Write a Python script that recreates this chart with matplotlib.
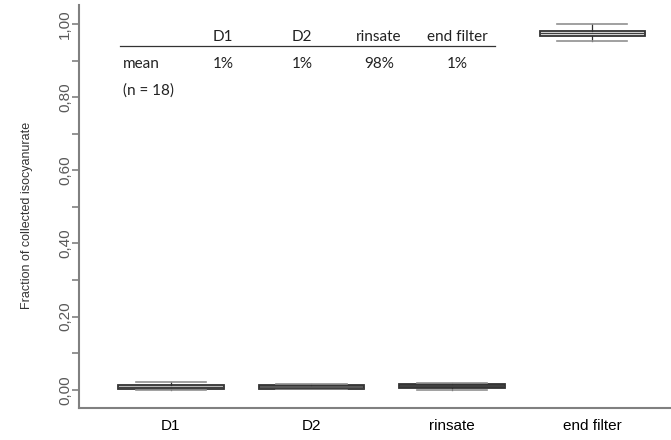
import matplotlib
matplotlib.use("Agg")
import matplotlib.pyplot as plt
from matplotlib.ticker import MultipleLocator, FuncFormatter

categories = ["D1", "D2", "rinsate", "end filter"]
whislo = [0.000, 0.002, 0.000, 0.954]
q1 = [0.003, 0.002, 0.006, 0.967]
med = [0.008, 0.005, 0.010, 0.975]
q3 = [0.012, 0.012, 0.0145, 0.981]
whishi = [0.022, 0.016, 0.018, 1.000]

table_header = ["D1", "D2", "rinsate", "end filter"]
table_mean = ["1%", "1%", "98%", "1%"]

fig = plt.figure(figsize=(6.71, 4.40), dpi=100)
ax = fig.add_axes([79/671, 32/440, 1 - 79/671, (408-5)/440])

stats = []
for i, c in enumerate(categories):
    stats.append(dict(label=c, whislo=whislo[i], q1=q1[i], med=med[i],
                      q3=q3[i], whishi=whishi[i], fliers=[]))

fills = ["#bfbfbf", "#595959", "#404040", "#d9d9d9"]
bp = ax.bxp(stats, positions=range(len(categories)), widths=0.75,
            patch_artist=True, showfliers=False,
            boxprops=dict(edgecolor="#333333", linewidth=1.3),
            medianprops=dict(color="#404040", linewidth=0.8),
            whiskerprops=dict(color="#303030", linewidth=0.9),
            capprops=dict(color="#909090", linewidth=1.2),
            capwidths=0.5)
for p, f in zip(bp["boxes"], fills):
    p.set_facecolor(f)

ax.set_xlim(-0.655, 3.56)
ax.set_ylim(-0.05, 1.052)

ax.yaxis.set_major_locator(MultipleLocator(0.2))
ax.yaxis.set_minor_locator(MultipleLocator(0.1))
ax.yaxis.set_major_formatter(FuncFormatter(lambda v, p: f"{v:.2f}".replace(".", ",")))
ax.tick_params(axis="y", which="both", length=5, width=1.2, color="#808080",
               labelcolor="#595959", labelsize=11, labelrotation=90, pad=0)
ax.tick_params(axis="x", length=0, labelsize=11, labelcolor="#000000", pad=8)
for lbl in ax.get_yticklabels():
    lbl.set_verticalalignment("center")
    lbl.set_family("Liberation Sans")
for lbl in ax.get_xticklabels():
    lbl.set_family("Liberation Sans")

for s in ["top", "right"]:
    ax.spines[s].set_visible(False)
for s in ["left", "bottom"]:
    ax.spines[s].set_color("#808080")
    ax.spines[s].set_linewidth(1.5)

fig.text(27/671, 1 - 215/440, "Fraction of collected isocyanurate", rotation=90,
         ha="center", va="center", fontsize=9, color="#333333",
         family="Liberation Sans")

# inset table
tfont = dict(family="Lato", fontsize=11, color="#222222")
hx = [223, 302, 379, 457]
for x, t in zip(hx, table_header):
    fig.text(x/671, 1 - 37/440, t, ha="center", va="center", **tfont)
for x, t in zip(hx, table_mean):
    fig.text(x/671, 1 - 64/440, t, ha="center", va="center", **tfont)
fig.text(123/671, 1 - 64/440, "mean", ha="left", va="center", **tfont)
fig.text(123/671, 1 - 91/440, "(n = 18)", ha="left", va="center", **tfont)
fig.add_artist(plt.Line2D([120/671, 495/671], [1 - 46/440, 1 - 46/440],
                          color="#333333", linewidth=0.9))

fig.savefig("out.png", dpi=100)
